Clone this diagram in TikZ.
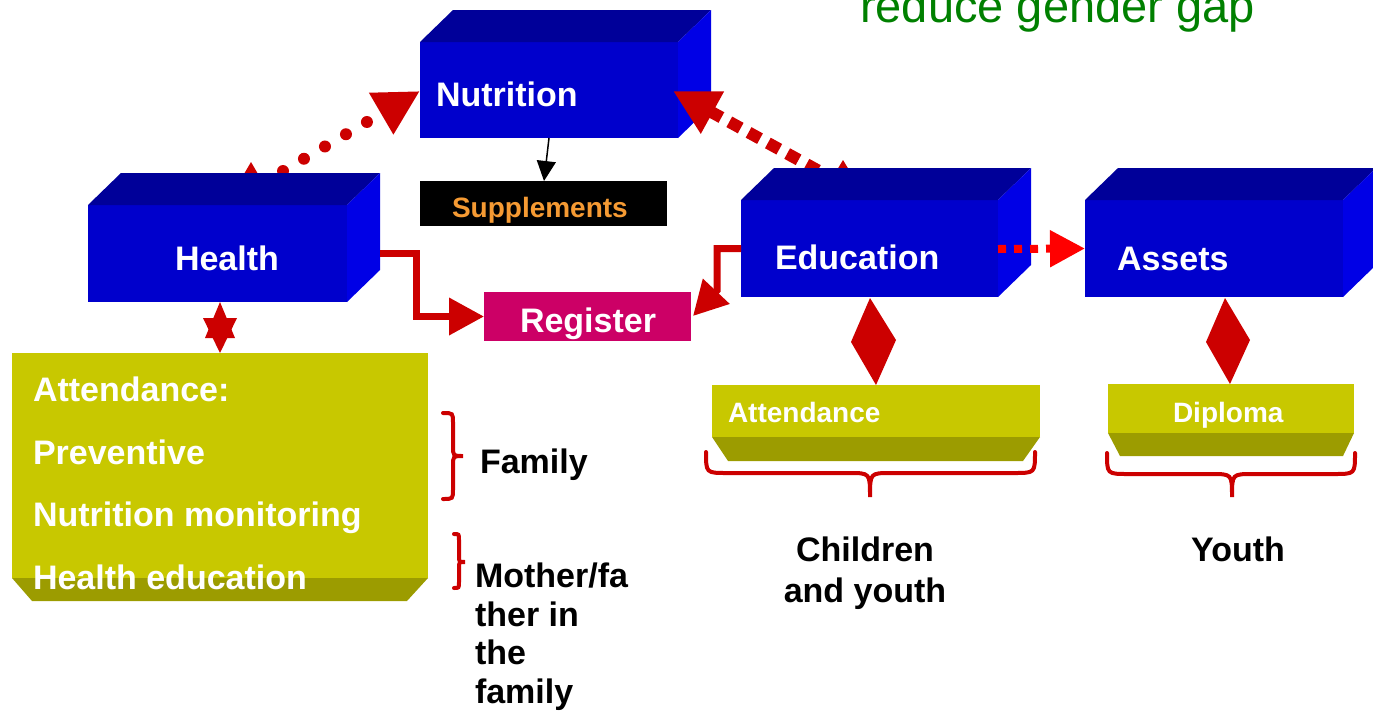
\documentclass[tikz,border=0pt]{standalone}
\usepackage{fontspec}
\setmainfont{Liberation Sans}
\usetikzlibrary{arrows.meta,calc}
\definecolor{bfrontc}{HTML}{0000CC}
\definecolor{btopc}{HTML}{000099}
\definecolor{bsidec}{HTML}{0000E6}
\definecolor{ofrontc}{HTML}{C8C800}
\definecolor{obevelc}{HTML}{9C9C00}
\definecolor{redc}{HTML}{CC0000}
\definecolor{brightred}{HTML}{FF0000}
\definecolor{magc}{HTML}{CC0066}
\definecolor{orangec}{HTML}{F59A33}
\definecolor{greenc}{HTML}{008000}
\newcommand\bigfnt{\fontsize{34}{41}\selectfont\bfseries}
\newcommand\midfnt{\fontsize{28}{34}\selectfont\bfseries}
\newcommand\boxdepth[1]{%
  \fill[btopc] (#1.north west) -- ++(33,-32) -- ([shift={(33,-32)}]#1.north east) -- (#1.north east) -- cycle;
  \fill[bsidec] (#1.north east) -- ++(33,-32) -- ([shift={(33,-32)}]#1.south east) -- (#1.south east) -- cycle;}
\pgfdeclarelayer{bgone}
\pgfdeclarelayer{bgtwo}
\pgfsetlayers{bgone,bgtwo,main}
\tikzset{
  bfront/.style={fill=bfrontc, inner sep=0pt, outer sep=0pt, anchor=north west},
  ofront/.style={fill=ofrontc, inner sep=0pt, outer sep=0pt, anchor=north west},
  flatbox/.style={inner sep=0pt, outer sep=0pt, anchor=north west},
  wlbl/.style={text=white, inner sep=0pt, outer sep=0pt, anchor=base west, font=\bigfnt},
  wsml/.style={text=white, inner sep=0pt, outer sep=0pt, anchor=base west, font=\midfnt},
  blbl/.style={text=black, inner sep=0pt, outer sep=0pt, font=\bigfnt},
  redcon/.style={redc, line width=7pt},
  bracestyle/.style={redc, line width=4pt, line cap=round},
}
\begin{document}
\begin{tikzpicture}[x=1pt,y=-1pt]
\useasboundingbox (0,0) rectangle (1373,710);
\clip (0,0) rectangle (1373,710);

\node[font=\fontsize{47}{56}\selectfont, text=greenc, inner sep=0pt, anchor=base west] (title) at (860,22) {reduce gender gap};

% Nutrition (lowest layer)
\begin{pgfonlayer}{bgone}
\node[bfront, minimum width=258, minimum height=96] (nut) at (420,42) {};
\boxdepth{nut}
\node[wlbl] (nutl) at (436,106) {Nutrition};
\end{pgfonlayer}

% blue boxes
\node[bfront, minimum width=259, minimum height=97] (hea) at (88,205) {};
\boxdepth{hea}
\node[wlbl] (heal) at (175,270) {Health};

\node[bfront, minimum width=257, minimum height=97] (edu) at (741,200) {};
\boxdepth{edu}
\node[wlbl] (edul) at (775,269) {Education};

\node[bfront, minimum width=258, minimum height=97] (ass) at (1085,200) {};
\boxdepth{ass}
\node[wlbl] (assl) at (1117,270) {Assets};

% connectors hidden behind Health / Education
\begin{pgfonlayer}{bgtwo}
\draw[redc, line width=12pt, line cap=round, dash pattern=on 0pt off 24.3pt,
  -{Triangle[length=45pt,width=45pt]}]
  ([shift={(195,-34)}]hea.north west) -- ([shift={(0,49)}]nut.north west);
\draw[redc, line width=12pt, dash pattern=on 13pt off 9pt,
  {Triangle[length=45pt,width=45pt]}-]
  ([shift={(-5,49)}]nut.north east) -- ([shift={(109,-12)}]edu.north west);
\fill[redc] ([shift={(163,-43)}]hea.north west) -- ++(-7,12) -- ++(14,0) -- cycle;
\fill[redc] ([shift={(102,-40)}]edu.north west) -- ++(-6,10) -- ++(12,0) -- cycle;
\end{pgfonlayer}

% Supplements
\node[flatbox, fill=black, minimum width=247, minimum height=45] (sup) at (420,181) {};
\node[wsml, text=orangec] (supl) at (452,217) {Supplements};
\draw[line width=1.5pt, -{Triangle[length=20pt,width=19pt]}]
  ([shift={(129,0)}]nut.south west) -- ([shift={(124,0)}]sup.north west);

% Register
\node[flatbox, fill=magc, minimum width=207, minimum height=49] (reg) at (484,292) {};
\node[wlbl] (regl) at (520,332) {Register};

\draw[redcon, -{Triangle[length=35pt,width=36pt]}]
  ([shift={(33,48)}]hea.north east) -- ++(36,0) |- (reg.west);
\draw[redcon, -{Triangle[length=34pt,width=35pt]}]
  (edu.west) -- ++(-24,0) -- ++(0,42) -- ([shift={(2,24)}]reg.north east);

% Education -> Assets
\draw[brightred, line width=8pt, dash pattern=on 8pt off 8pt, -{Triangle[length=35pt,width=35pt]}]
  ([shift={(0,49)}]edu.north east) -- (ass.west);

% olive boxes
\node[ofront, minimum width=416, minimum height=225] (att) at (12,353) {};
\fill[obevelc] (att.south west) -- (att.south east) -- ++(-21,23) -- ([shift={(20,23)}]att.south west) -- cycle;
\node[wlbl] (a1) at (33,401) {Attendance:};
\node[wlbl] (a2) at (33,464) {Preventive};
\node[wlbl] (a3) at (33,526) {Nutrition monitoring};
\node[wlbl] (a4) at (33,589) {Health education};

\node[ofront, minimum width=328, minimum height=52] (att2) at (712,385) {};
\fill[obevelc] (att2.south west) -- (att2.south east) -- ++(-17,24) -- ([shift={(16,24)}]att2.south west) -- cycle;
\node[wsml] (att2l) at (728,422) {Attendance};

\node[ofront, minimum width=246, minimum height=49] (dip) at (1108,384) {};
\fill[obevelc] (dip.south west) -- (dip.south east) -- ++(-11,23) -- ([shift={(12,23)}]dip.south west) -- cycle;
\node[wsml] (dipl) at (1173,422) {Diploma};

% star connector Health <-> Attendance
\fill[redc] ([shift={(132,0)}]hea.south west) -- ++(-15,36) -- ++(30,0) -- cycle;
\fill[redc] ([shift={(208,0)}]att.north west) -- ++(-17,-35) -- ++(34,0) -- cycle;

% diamond connectors
\fill[redc] ([shift={(129,1)}]edu.south west) -- ++(-19,44) -- ++(25,43) -- ++(20,-45) -- cycle;
\fill[redc] ([shift={(140,1)}]ass.south west) -- ++(-19,44) -- ++(24,42) -- ++(20,-44) -- cycle;

% braces
\draw[bracestyle] (443,413) .. controls (453,413) .. (453,423) -- (453,446)
  .. controls (453,456) .. (463,456) .. controls (453,456) .. (453,466) -- (453,489)
  .. controls (453,499) .. (443,499);
\draw[bracestyle] (454,534) .. controls (459,534) .. (459,540) -- (459,556)
  .. controls (459,562) .. (465,562) .. controls (459,562) .. (459,568) -- (459,582)
  .. controls (459,588) .. (454,588);
\draw[bracestyle] (706,452) .. controls (706,473) .. (727,473) -- (849,473)
  .. controls (870,473) .. (870,497) .. controls (870,473) .. (891,473) -- (1014,473)
  .. controls (1035,473) .. (1035,452);
\draw[bracestyle] (1107,453) .. controls (1107,474) .. (1128,474) -- (1211,474)
  .. controls (1232,474) .. (1232,497) .. controls (1232,474) .. (1253,474) -- (1334,474)
  .. controls (1355,474) .. (1355,453);

% black labels
\node[blbl, anchor=base west] (fam) at (480,473) {Family};
\node[blbl, anchor=base west, align=left, font=\fontsize{34}{38.5}\selectfont\bfseries] (mot) at (475,703) {Mother/fa\\ther in\\the\\family};
\node[blbl, anchor=base, align=center] (chi) at (865,602) {Children\\and youth};
\node[blbl, anchor=base] (you) at (1238,561) {Youth};
\end{tikzpicture}
\end{document}
